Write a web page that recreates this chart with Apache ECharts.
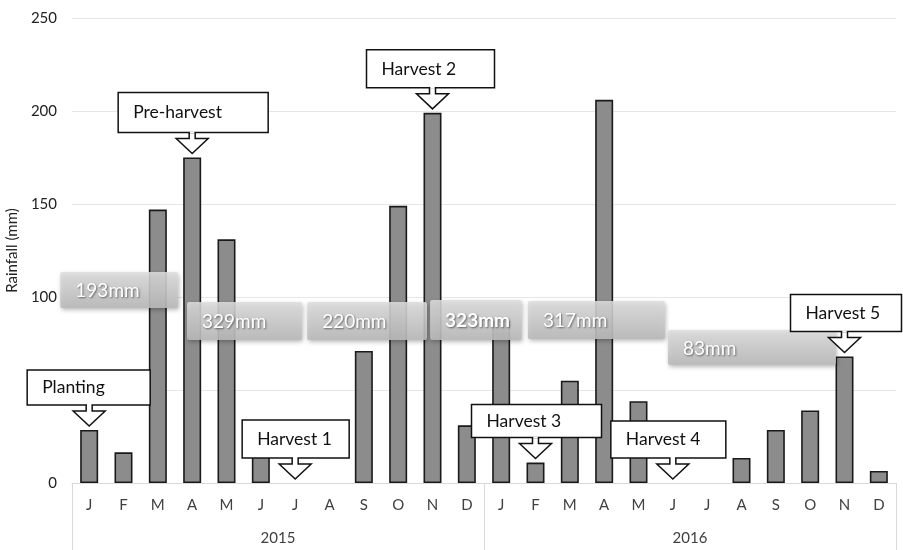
<!DOCTYPE html>
<html>
<head>
<meta charset="utf-8">
<script src="https://cdn.jsdelivr.net/npm/echarts@6/dist/echarts.min.js"></script>
<style>
  html, body { margin: 0; padding: 0; background: #fff; }
  #chart { width: 903px; height: 550px; }
</style>
</head>
<body>
<div id="chart"></div>
<script>
// Monthly rainfall (mm), January 2015 to December 2016
const months = ['J','F','M','A','M','J','J','A','S','O','N','D',
                'J','F','M','A','M','J','J','A','S','O','N','D'];
const years = ['2015', '2016'];
const rain2015 = [28.5, 16.5, 147, 175, 131, 18, 0, 0, 71, 149, 199, 31];
const rain2016 = [87, 11, 55, 206, 44, 0, 0, 13.5, 28.5, 39, 68, 6.5];
const yTicks = [0, 50, 100, 150, 200, 250];

// Crop events and the month each one falls in (index into months)
const eventLabels = ['Planting', 'Pre-harvest', 'Harvest 1', 'Harvest 2', 'Harvest 3', 'Harvest 4', 'Harvest 5'];
const eventMonths = [0, 3, 6, 10, 13, 17, 22];

// Rainfall totals between events
const periodTotals = ['193mm', '329mm', '220mm', '323mm', '317mm', '83mm'];

const rain = rain2015.concat(rain2016);

// Placement of the callout boxes relative to the arrow tip (px)
const calloutLayout = [
  { dx: -62, w: 123, h: 35 },
  { dx: -74, w: 150, h: 40 },
  { dx: -53, w: 107, h: 38 },
  { dx: -66, w: 128, h: 38 },
  { dx: -64, w: 130, h: 33 },
  { dx: -62, w: 115, h: 37 },
  { dx: -54, w: 111, h: 37 }
];
// Placement of the total bands in axis units: [x from, x to, y top, y bottom]
const bandLayout = [
  [-0.84, 2.59, 113.4, 94.1],
  [2.85, 6.20, 97.3, 76.9],
  [6.35, 9.84, 97.3, 76.9],
  [9.93, 12.60, 98.4, 76.9],
  [12.78, 16.77, 97.8, 77.4],
  [16.86, 21.75, 82.3, 63.4]
];
const boldBand = 3;

const FONT = 'Lato, "Open Sans", sans-serif';
const chart = echarts.init(document.getElementById('chart'));

function renderBand(params, api) {
  const i = api.value(0);
  const L = bandLayout[i];
  const p1 = api.coord([L[0], L[2]]);
  const p2 = api.coord([L[1], L[3]]);
  return {
    type: 'group',
    children: [
      {
        type: 'rect',
        shape: { x: p1[0], y: p1[1], width: p2[0] - p1[0], height: p2[1] - p1[1], r: 2 },
        style: {
          fill: new echarts.graphic.LinearGradient(0, 0, 0, 1, [
            { offset: 0, color: 'rgba(222,222,222,0.86)' },
            { offset: 1, color: 'rgba(186,186,186,0.9)' }
          ]),
          shadowBlur: 4, shadowOffsetY: 2, shadowOffsetX: 1,
          shadowColor: 'rgba(0,0,0,0.3)'
        }
      },
      {
        type: 'text',
        x: p1[0] + 15,
        y: (p1[1] + p2[1]) / 2 + 1,
        style: {
          text: periodTotals[i],
          fill: '#ffffff',
          font: (i === boldBand ? 'bold ' : '') + '19px ' + FONT,
          verticalAlign: 'middle',
          align: 'left',
          textShadowColor: 'rgba(0,0,0,0.5)',
          textShadowBlur: 2,
          textShadowOffsetX: 1,
          textShadowOffsetY: 1
        }
      }
    ]
  };
}

function renderCallout(params, api) {
  const i = api.value(0);
  const m = eventMonths[i];
  const lay = calloutLayout[i];
  const top = api.coord([m, rain[m]]);
  const tx = top[0];
  const ty = top[1] - 4;
  const boxBottom = ty - 21;
  const boxTop = boxBottom - lay.h;
  const boxLeft = tx + lay.dx;
  const stem = 3, head = 16, headH = 15;
  return {
    type: 'group',
    children: [
      {
        type: 'polygon',
        shape: {
          points: [
            [tx - stem, boxBottom], [tx - stem, ty - headH], [tx - head, ty - headH],
            [tx, ty], [tx + head, ty - headH], [tx + stem, ty - headH], [tx + stem, boxBottom]
          ]
        },
        style: { fill: '#fff', stroke: '#111', lineWidth: 1.5 }
      },
      {
        type: 'rect',
        shape: { x: boxLeft, y: boxTop, width: lay.w, height: lay.h },
        style: { fill: '#fff', stroke: '#111', lineWidth: 1.5 }
      },
      {
        type: 'rect',
        shape: { x: tx - stem + 0.8, y: boxBottom - 1, width: 2 * stem - 1.6, height: 2 },
        style: { fill: '#fff' }
      },
      {
        type: 'text',
        x: boxLeft + 15,
        y: (boxTop + boxBottom) / 2,
        style: {
          text: eventLabels[i],
          fill: '#111',
          font: '17.5px ' + FONT,
          verticalAlign: 'middle',
          align: 'left'
        }
      }
    ]
  };
}

// Months without rain get no outline, so nothing shows on the baseline
const barData = rain.map(v => v === 0 ? { value: v, itemStyle: { borderWidth: 0 } } : v);

chart.setOption({
  animation: false,
  backgroundColor: '#ffffff',
  grid: { left: 72, right: 7, top: 18, bottom: 67, containLabel: false, outerBoundsMode: 'none' },
  xAxis: [
    {
      type: 'category',
      data: months,
      position: 'bottom',
      axisLine: { show: true, lineStyle: { color: '#d9d9d9', width: 1 } },
      axisTick: { show: false },
      axisLabel: { color: '#404040', fontSize: 15, fontFamily: FONT, margin: 15, interval: 0 },
      splitLine: { show: false }
    },
    {
      type: 'category',
      data: years,
      position: 'bottom',
      axisLine: { show: false },
      axisTick: { show: true, length: 67, interval: 0, lineStyle: { color: '#d9d9d9', width: 1 } },
      axisLabel: { color: '#404040', fontSize: 15, fontFamily: FONT, margin: 48 },
      splitLine: { show: false }
    },
    {
      type: 'value',
      min: -0.5,
      max: 23.5,
      show: false
    }
  ],
  yAxis: {
    type: 'value',
    min: yTicks[0],
    max: yTicks[yTicks.length - 1],
    interval: yTicks[1] - yTicks[0],
    name: 'Rainfall (mm)',
    nameLocation: 'middle',
    nameGap: 48,
    nameRotate: 90,
    nameTextStyle: { color: '#222', fontSize: 15, fontFamily: FONT },
    axisLine: { show: false },
    axisTick: { show: false },
    axisLabel: { color: '#222', fontSize: 15, fontFamily: FONT, margin: 15 },
    splitLine: { show: true, lineStyle: { color: '#e6e6e6', width: 1 } }
  },
  series: [
    {
      type: 'bar',
      xAxisIndex: 0,
      yAxisIndex: 0,
      data: barData,
      barWidth: 18,
      z: 2,
      itemStyle: { color: '#8c8c8c', borderColor: '#1a1a1a', borderWidth: 1.6 }
    },
    {
      type: 'custom',
      xAxisIndex: 2,
      yAxisIndex: 0,
      z: 3,
      clip: false,
      data: periodTotals.map((t, i) => [i]),
      renderItem: renderBand
    },
    {
      type: 'custom',
      xAxisIndex: 2,
      yAxisIndex: 0,
      z: 4,
      clip: false,
      data: eventLabels.map((t, i) => [i]),
      renderItem: renderCallout
    }
  ]
});
</script>
</body>
</html>
